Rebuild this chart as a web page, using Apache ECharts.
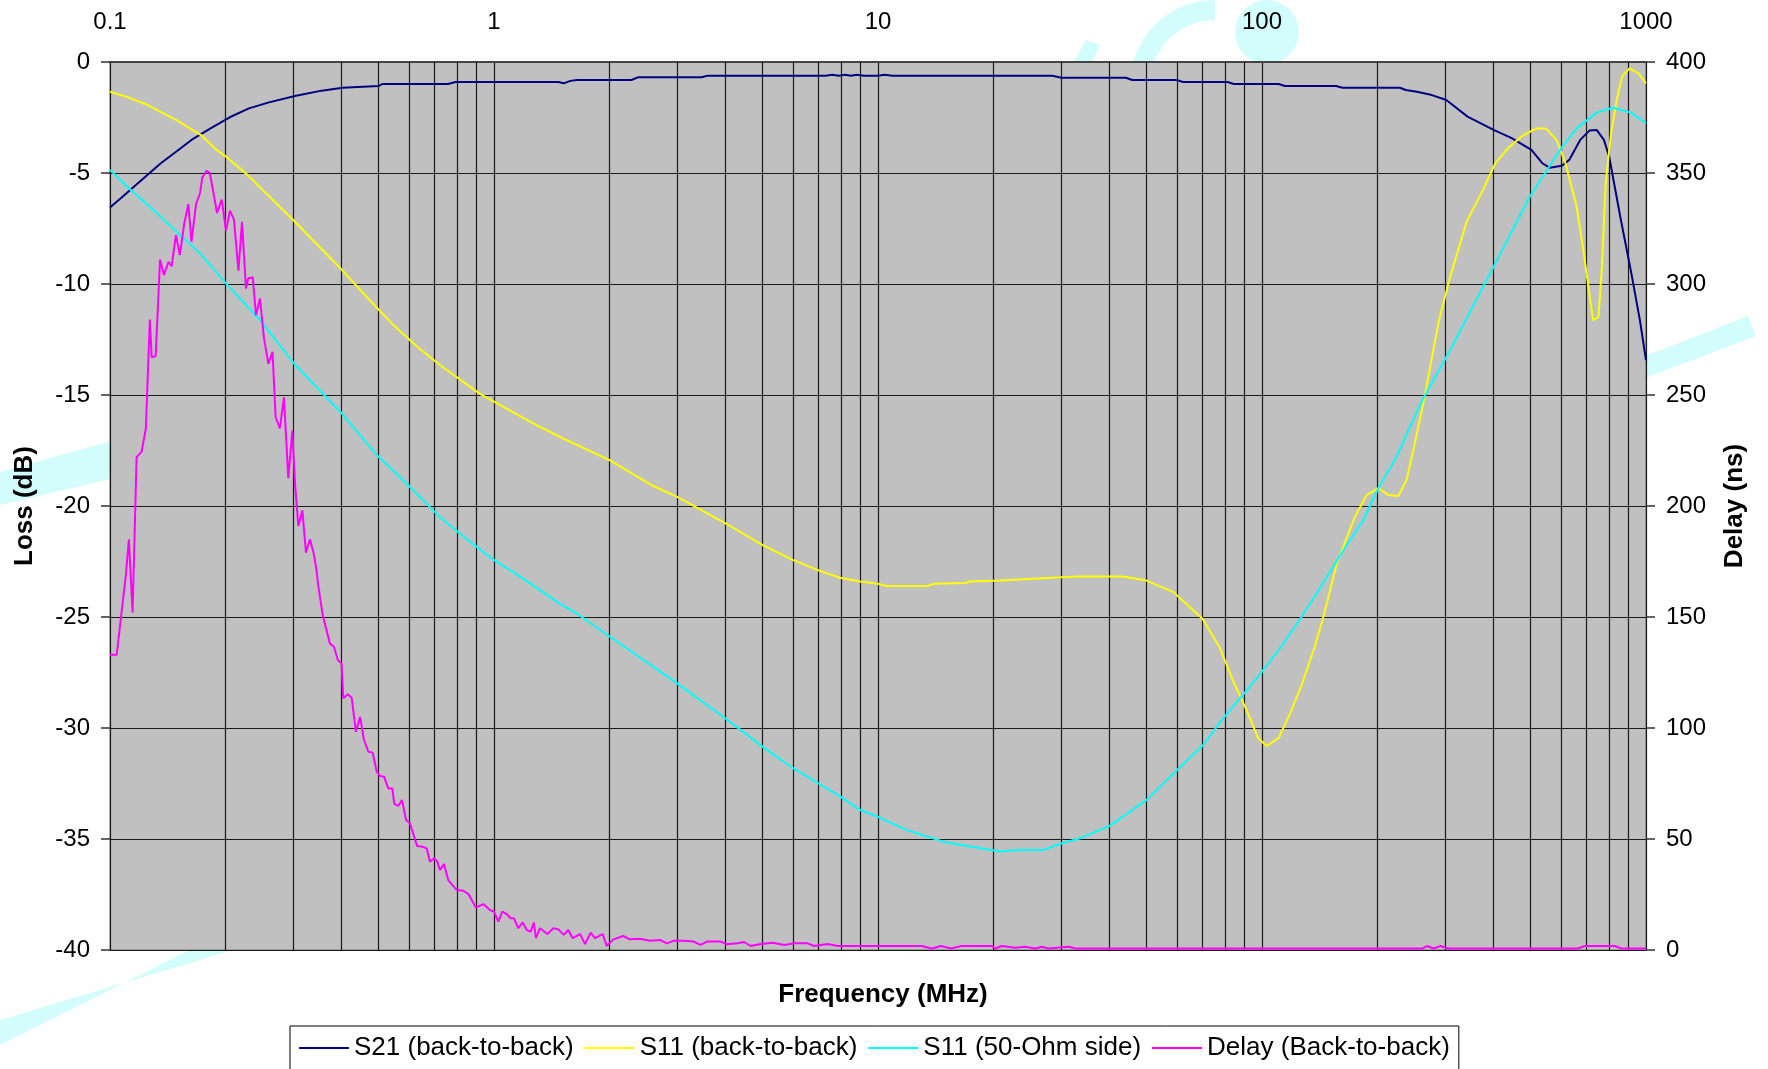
<!DOCTYPE html>
<html>
<head>
<meta charset="utf-8">
<script src="https://cdn.jsdelivr.net/npm/echarts@6/dist/echarts.min.js"></script>
<style>
  html, body { margin: 0; padding: 0; background: #fff; }
  #main { width: 1768px; height: 1069px; }
</style>
</head>
<body>
<div id="main"></div>
<script>
// frequency in MHz, loss in dB, delay in ns
var xTickLabels = ['0.1', '1', '10', '100', '1000'];
var minorFreqs = [0.2, 0.3, 0.4, 0.5, 0.6, 0.7, 0.8, 0.9,
                  2, 3, 4, 5, 6, 7, 8, 9,
                  20, 30, 40, 50, 60, 70, 80, 90,
                  200, 300, 400, 500, 600, 700, 800, 900];

var s21Freq = [0.1, 0.1078, 0.1154, 0.1236, 0.1356, 0.1486, 0.163, 0.1827, 0.205, 0.23, 0.258, 0.303, 0.356, 0.403, 0.501, 0.513, 0.759, 0.794, 1.47, 1.52, 1.58, 1.644, 2.28, 2.37, 3.47, 3.6, 7.3, 7.6, 7.9, 8.2, 8.5, 8.8, 9.2, 10.0, 10.4, 10.9, 28.4, 30.1, 44.2, 45.9, 60, 62.3, 81.3, 84.5, 110.5, 114.8, 156, 162, 228.5, 237, 253, 277, 302, 343, 401, 447, 503, 537, 561, 604, 631, 674, 712, 744, 777, 802, 857, 916, 964, 1000];
var s21Loss = [-6.55, -6.07, -5.62, -5.17, -4.56, -4.04, -3.51, -2.99, -2.49, -2.09, -1.83, -1.53, -1.29, -1.16, -1.08, -0.99, -0.99, -0.9, -0.9, -0.96, -0.85, -0.81, -0.81, -0.69, -0.69, -0.62, -0.62, -0.57, -0.62, -0.57, -0.62, -0.57, -0.62, -0.62, -0.57, -0.62, -0.62, -0.71, -0.71, -0.81, -0.81, -0.9, -0.9, -0.99, -0.99, -1.08, -1.08, -1.16, -1.16, -1.26, -1.34, -1.49, -1.71, -2.46, -3.06, -3.43, -3.96, -4.56, -4.76, -4.67, -4.41, -3.51, -3.09, -3.06, -3.51, -4.27, -6.97, -9.52, -11.63, -13.43];

var s11Freq = [0.1, 0.1103, 0.1236, 0.1486, 0.1725, 0.1896, 0.2, 0.227, 0.3, 0.401, 0.485, 0.547, 0.629, 0.723, 0.919, 1.0, 1.265, 1.514, 2.0, 2.6, 3.01, 4.03, 5.01, 6.0, 7.0, 7.96, 8.98, 10, 10.5, 13.5, 14, 16.9, 17.3, 20.8, 25.4, 32.9, 43.5, 50, 58.8, 70, 77.7, 84.2, 90.3, 97.8, 102.8, 110.4, 118.4, 126.9, 137.4, 144.5, 156.6, 174.6, 187.4, 200.9, 213.3, 226.5, 238, 250, 265, 289, 309, 341, 376, 405, 437, 476, 518, 548, 585, 617, 660, 689, 728, 752, 768, 785, 811, 839, 866, 906, 956, 1000];
var s11Loss = [-1.34, -1.56, -1.89, -2.61, -3.29, -3.96, -4.25, -5.05, -7.12, -9.35, -10.9, -11.85, -12.8, -13.65, -14.95, -15.3, -16.28, -16.96, -17.93, -19.1, -19.6, -20.8, -21.76, -22.43, -22.9, -23.23, -23.4, -23.5, -23.6, -23.6, -23.5, -23.47, -23.4, -23.36, -23.28, -23.18, -23.18, -23.36, -23.88, -25.08, -26.4, -27.9, -29.04, -30.46, -30.81, -30.46, -29.34, -28.06, -26.3, -24.99, -22.6, -20.48, -19.5, -19.2, -19.5, -19.55, -18.83, -17.18, -15.1, -11.63, -9.68, -7.2, -5.77, -4.57, -3.89, -3.33, -2.99, -2.99, -3.51, -4.56, -6.52, -8.63, -11.63, -11.48, -9.22, -5.47, -3.21, -1.71, -0.66, -0.29, -0.51, -0.96];

var ohmFreq = [0.1, 0.112, 0.127, 0.149, 0.1716, 0.2005, 0.2458, 0.301, 0.401, 0.495, 0.593, 0.723, 0.83, 0.919, 1.0, 1.19, 1.486, 1.64, 2.0, 2.3, 3.0, 4.0, 5.0, 6.0, 7.0, 8.0, 9.0, 10, 11.9, 15, 20.8, 23.4, 26.9, 30, 33.6, 40.2, 50, 60, 70, 79.8, 90, 100, 113.7, 125.6, 141.6, 163, 183.7, 200.9, 224, 262, 309, 401, 498, 605, 660, 744, 820, 914, 1000];
var ohmLoss = [-4.86, -5.69, -6.52, -7.64, -8.62, -9.97, -11.62, -13.57, -15.82, -17.7, -19.0, -20.5, -21.35, -21.95, -22.43, -23.26, -24.41, -24.83, -25.88, -26.6, -27.99, -29.56, -30.84, -31.8, -32.5, -33.1, -33.7, -34.0, -34.6, -35.15, -35.56, -35.5, -35.5, -35.2, -34.97, -34.4, -33.25, -31.9, -30.8, -29.5, -28.43, -27.46, -26.2, -25.1, -23.7, -21.98, -20.63, -19.2, -17.78, -15.2, -12.97, -9.22, -6.07, -3.82, -2.99, -2.28, -2.06, -2.28, -2.76];

var delayFreq = [0.1, 0.1041, 0.107, 0.110, 0.112, 0.1145, 0.1173, 0.1209, 0.124, 0.127, 0.1284, 0.1315, 0.135, 0.1382, 0.142, 0.1447, 0.1485, 0.152, 0.156, 0.160, 0.163, 0.1675, 0.1716, 0.174, 0.1786, 0.182, 0.190, 0.1954, 0.2005, 0.2053, 0.2103, 0.216, 0.2207, 0.226, 0.229, 0.2354, 0.240, 0.2458, 0.2518, 0.2585, 0.265, 0.270, 0.277, 0.2838, 0.2913, 0.2985, 0.3033, 0.3094, 0.3169, 0.3239, 0.3317, 0.3398, 0.345, 0.3487, 0.358, 0.374, 0.383, 0.392, 0.401, 0.405, 0.416, 0.426, 0.437, 0.448, 0.4587, 0.4707, 0.483, 0.495, 0.505, 0.517, 0.5306, 0.5435, 0.55, 0.5635, 0.576, 0.590, 0.604, 0.631, 0.652, 0.668, 0.681, 0.698, 0.712, 0.723, 0.741, 0.760, 0.800, 0.832, 0.858, 0.897, 0.938, 0.976, 1.0, 1.026, 1.051, 1.079, 1.105, 1.127, 1.157, 1.188, 1.217, 1.246, 1.27, 1.286, 1.318, 1.377, 1.428, 1.471, 1.52, 1.561, 1.603, 1.675, 1.726, 1.786, 1.832, 1.919, 1.965, 2.046, 2.17, 2.26, 2.4, 2.55, 2.71, 2.82, 2.94, 3.12, 3.31, 3.45, 3.59, 3.89, 4.05, 4.3, 4.48, 4.66, 4.95, 5.32, 5.7, 6.05, 6.56, 6.82, 7.39, 7.86, 13, 13.8, 14.6, 15.5, 16.5, 19.8, 20.2, 21, 22.8, 24.2, 25.7, 26.7, 27.8, 31.4, 32.7, 262, 269, 280, 292, 304, 665, 692, 829, 863, 1000];
var delayNs = [133, 133, 151, 169, 185, 152, 222, 224.5, 235, 284, 267, 267.5, 311, 304, 310, 308, 322, 313, 327, 336, 319, 336, 341, 348, 351, 350, 332, 338, 324, 333, 329, 306, 328, 298, 302.5, 303, 286, 293.5, 275.5, 264, 269.5, 240, 235, 249, 212.5, 234, 210, 191, 198, 179, 185, 178, 171, 164, 151, 138, 136.6, 130.6, 129, 113.4, 115.2, 113.6, 98.3, 105, 94.6, 89.3, 88.9, 80.3, 78.4, 78.1, 72.8, 72.7, 65.8, 64.9, 67.6, 58.6, 57.1, 46.8, 46.5, 45.8, 39.8, 41.3, 39.8, 36, 38.7, 31.5, 27, 26.7, 25.2, 19.1, 20.7, 18, 17.3, 12.8, 17.3, 16.2, 14.3, 14.3, 9.8, 12.4, 9, 8.3, 12.3, 5.3, 9.8, 7.2, 9.8, 9.3, 6.8, 9, 5.3, 7.2, 2.7, 7.8, 5.3, 7.2, 1.8, 4.8, 6.3, 4.8, 5.1, 4.2, 4.5, 3, 4.2, 4.2, 3.8, 2.3, 3.8, 3.8, 2.6, 3, 3.6, 1.8, 2.7, 3.3, 2.3, 3, 3, 1.8, 2.7, 1.8, 1.8, 0.7, 1.8, 0.7, 1.8, 1.8, 0.7, 1.8, 1, 1.5, 0.7, 1.5, 0.7, 1.5, 0.7, 0.7, 1.8, 0.7, 1.8, 0.7, 0.7, 1.8, 1.8, 0.7, 0.7];

function pairs(xs, ys) {
    return xs.map(function (x, i) { return [x, ys[i]]; });
}

var font = "'Liberation Sans', Arial, sans-serif";
var wm = 'rgba(175,250,250,0.55)';

option = {
    animation: false,
    backgroundColor: '#ffffff',
    textStyle: { fontFamily: font },
    title: {
        text: 'Frequency (MHz)',
        left: 878,
        top: 977,
        textAlign: 'center',
        textStyle: { fontFamily: font, fontSize: 26, fontWeight: 'bold', color: '#000' }
    },
    graphic: [
        { type: 'polygon', z: -1, shape: { points: [[0, 1020], [300, 930], [230, 930], [0, 1045]] }, style: { fill: wm } },
        { type: 'polygon', z: -1, shape: { points: [[0, 472], [115, 440], [115, 478], [0, 505]] }, style: { fill: wm } },
        { type: 'polygon', z: -1, shape: { points: [[1640, 358], [1748, 316], [1756, 336], [1640, 380]] }, style: { fill: wm } },
        { type: 'circle', z: -1, shape: { cx: 1267, cy: 32, r: 32 }, style: { fill: wm } },
        { type: 'sector', z: -1, shape: { cx: 1215, cy: 85, r: 85, r0: 65, startAngle: Math.PI, endAngle: Math.PI * 1.5 }, style: { fill: wm } },
        { type: 'polygon', z: -1, shape: { points: [[1074, 62], [1086, 40], [1100, 45], [1092, 62]] }, style: { fill: wm } }
    ],
    legend: {
        data: ['S21 (back-to-back)', 'S11 (back-to-back)', 'S11 (50-Ohm side)', 'Delay (Back-to-back)'],
        left: 290,
        top: 1026,
        orient: 'horizontal',
        icon: 'rect',
        itemWidth: 50,
        itemHeight: 2,
        itemGap: 11,
        padding: [9, 9, 24, 9],
        backgroundColor: '#ffffff',
        borderColor: '#000',
        borderWidth: 1,
        borderRadius: 0,
        textStyle: { fontFamily: font, fontSize: 26, color: '#000' }
    },
    grid: {
        left: 110,
        right: 122,
        top: 62,
        bottom: 119,
        show: true,
        backgroundColor: '#c0c0c0',
        borderColor: '#777',
        borderWidth: 1
    },
    xAxis: {
        type: 'log',
        logBase: 10,
        min: 0.1,
        max: 1000,
        position: 'top',
        axisLine: { show: true, lineStyle: { color: '#444', width: 2 } },
        axisTick: { show: false },
        axisLabel: {
            margin: 28,
            fontSize: 24,
            fontFamily: font,
            color: '#000',
            formatter: function (v, i) { return xTickLabels[i]; }
        },
        splitLine: { show: true, lineStyle: { color: '#1a1a1a', width: 1.2 } }
    },
    yAxis: [
        {
            type: 'value',
            min: -40,
            max: 0,
            interval: 5,
            name: 'Loss (dB)',
            nameLocation: 'middle',
            nameRotate: 90,
            nameGap: 72,
            nameTextStyle: { fontFamily: font, fontSize: 26, fontWeight: 'bold', color: '#000' },
            axisLine: { show: false },
            axisTick: { show: true, length: 9, lineStyle: { color: '#333', width: 1.5 } },
            axisLabel: { margin: 20, fontSize: 24, fontFamily: font, color: '#000' },
            splitLine: { show: true, lineStyle: { color: '#1a1a1a', width: 1.2 } }
        },
        {
            type: 'value',
            min: 0,
            max: 400,
            interval: 50,
            position: 'right',
            name: 'Delay (ns)',
            nameLocation: 'middle',
            nameRotate: 90,
            nameGap: 76,
            nameTextStyle: { fontFamily: font, fontSize: 26, fontWeight: 'bold', color: '#000' },
            axisLine: { show: false },
            axisTick: { show: true, length: 9, lineStyle: { color: '#333', width: 1.5 } },
            axisLabel: { margin: 20, fontSize: 24, fontFamily: font, color: '#000' },
            splitLine: { show: false }
        }
    ],
    series: [
        {
            name: 'S21 (back-to-back)',
            type: 'line',
            showSymbol: false,
            symbol: 'none',
            color: '#000080',
            lineStyle: { width: 2, color: '#000080' },
            data: pairs(s21Freq, s21Loss),
            markLine: {
                silent: true,
                z: 1,
                symbol: 'none',
                label: { show: false },
                lineStyle: { color: '#1a1a1a', width: 1.2, type: 'solid' },
                data: minorFreqs.map(function (f) { return { xAxis: f }; })
            }
        },
        {
            name: 'S11 (back-to-back)',
            type: 'line',
            showSymbol: false,
            symbol: 'none',
            color: '#ffff00',
            lineStyle: { width: 2, color: '#ffff00' },
            data: pairs(s11Freq, s11Loss)
        },
        {
            name: 'S11 (50-Ohm side)',
            type: 'line',
            showSymbol: false,
            symbol: 'none',
            color: '#00ffff',
            lineStyle: { width: 2, color: '#00ffff' },
            data: pairs(ohmFreq, ohmLoss)
        },
        {
            name: 'Delay (Back-to-back)',
            type: 'line',
            yAxisIndex: 1,
            showSymbol: false,
            symbol: 'none',
            color: '#ff00ff',
            lineStyle: { width: 2, color: '#ff00ff' },
            data: pairs(delayFreq, delayNs)
        }
    ]
};

var myChart = echarts.init(document.getElementById('main'));
myChart.setOption(option);
</script>
</body>
</html>
